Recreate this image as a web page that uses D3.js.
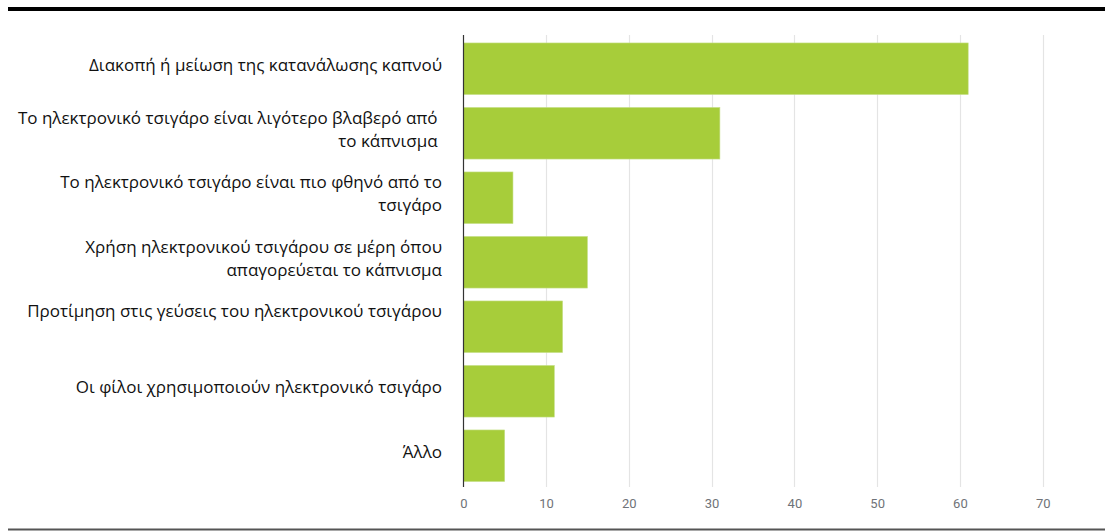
<!DOCTYPE html>
<html>
<head>
<meta charset="utf-8">
<script src="https://cdn.jsdelivr.net/npm/d3@7"></script>
<style>
  html, body { margin: 0; padding: 0; background: #fff; }
  svg { display: block; }
</style>
</head>
<body>
<svg id="chart" width="1105" height="531"></svg>
<script>
// Reasons for using e-cigarettes (number of responses)
const categories = [
  ["Διακοπή ή μείωση της κατανάλωσης καπνού"],
  ["Το ηλεκτρονικό τσιγάρο είναι λιγότερο βλαβερό από\u00a0", "το κάπνισμα\u00a0"],
  ["Το ηλεκτρονικό τσιγάρο είναι πιο φθηνό από το", "τσιγάρο"],
  ["Χρήση ηλεκτρονικού τσιγάρου σε μέρη όπου", "απαγορεύεται το κάπνισμα"],
  ["Προτίμηση στις γεύσεις του ηλεκτρονικού τσιγάρου", "\u00a0"],
  ["Οι φίλοι χρησιμοποιούν ηλεκτρονικό τσιγάρο"],
  ["Άλλο"]
];
const values = [61, 31, 6, 15, 12, 11, 5];
const xTicks = [0, 10, 20, 30, 40, 50, 60, 70];

const svg = d3.select("#chart");
const W = 1105, H = 531;
const plot = { left: 463.3, right: 1042.7, top: 36.5, bottom: 488 };

const x = d3.scaleLinear().domain([0, 70]).range([plot.left, plot.right]);
const y = d3.scaleBand()
  .domain(d3.range(categories.length))
  .range([plot.top, plot.bottom])
  .paddingInner(0.2)
  .paddingOuter(0.1);

// frame rules
svg.append("rect").attr("x", 8).attr("y", 7).attr("width", W - 8).attr("height", 4).attr("fill", "#000");
svg.append("rect").attr("x", 8).attr("y", 528.5).attr("width", W - 8).attr("height", 2).attr("fill", "#555");

// vertical gridlines
svg.append("g")
  .selectAll("line")
  .data(xTicks.slice(1))
  .join("line")
  .attr("x1", d => Math.round(x(d)) + 0.5)
  .attr("x2", d => Math.round(x(d)) + 0.5)
  .attr("y1", 35)
  .attr("y2", 487)
  .attr("stroke", "#e4e4e4")
  .attr("stroke-width", 1.2);

// bars
svg.append("g")
  .selectAll("rect")
  .data(values)
  .join("rect")
  .attr("x", x(0))
  .attr("y", (d, i) => y(i))
  .attr("width", d => x(d) - x(0))
  .attr("height", y.bandwidth())
  .attr("fill", "#a7cd3a")
  .attr("stroke", "#c6e08a")
  .attr("stroke-width", 0.6);

// category axis line
svg.append("line")
  .attr("x1", Math.round(x(0)) + 0.5)
  .attr("x2", Math.round(x(0)) + 0.5)
  .attr("y1", 35)
  .attr("y2", 487)
  .attr("stroke", "#333")
  .attr("stroke-width", 1.2);

// x axis tick labels
const xAxis = d3.axisBottom(x).tickValues(xTicks).tickSize(0).tickPadding(0);
const gx = svg.append("g").attr("transform", "translate(0,499)").call(xAxis);
gx.select(".domain").remove();
gx.selectAll("text")
  .attr("dy", "0.71em")
  .attr("font-family", "Roboto, sans-serif")
  .attr("font-size", 13)
  .attr("fill", "#6f7378");

// category labels, right-aligned next to the axis
const labelX = 442;
const labels = svg.append("g")
  .attr("font-family", "'Open Sans', 'Noto Sans', sans-serif")
  .attr("font-size", 17)
  .attr("fill", "#111")
  .attr("text-anchor", "end");

categories.forEach((lines, i) => {
  const cy = y(i) + y.bandwidth() / 2;
  const n = lines.length;
  const t = labels.append("text").attr("xml:space", "preserve");
  lines.forEach((ln, k) => {
    const base = n === 1 ? cy + 2 : cy - 9.5 + k * 23;
    t.append("tspan").attr("x", labelX).attr("y", base).text(ln);
  });
});
</script>
</body>
</html>
